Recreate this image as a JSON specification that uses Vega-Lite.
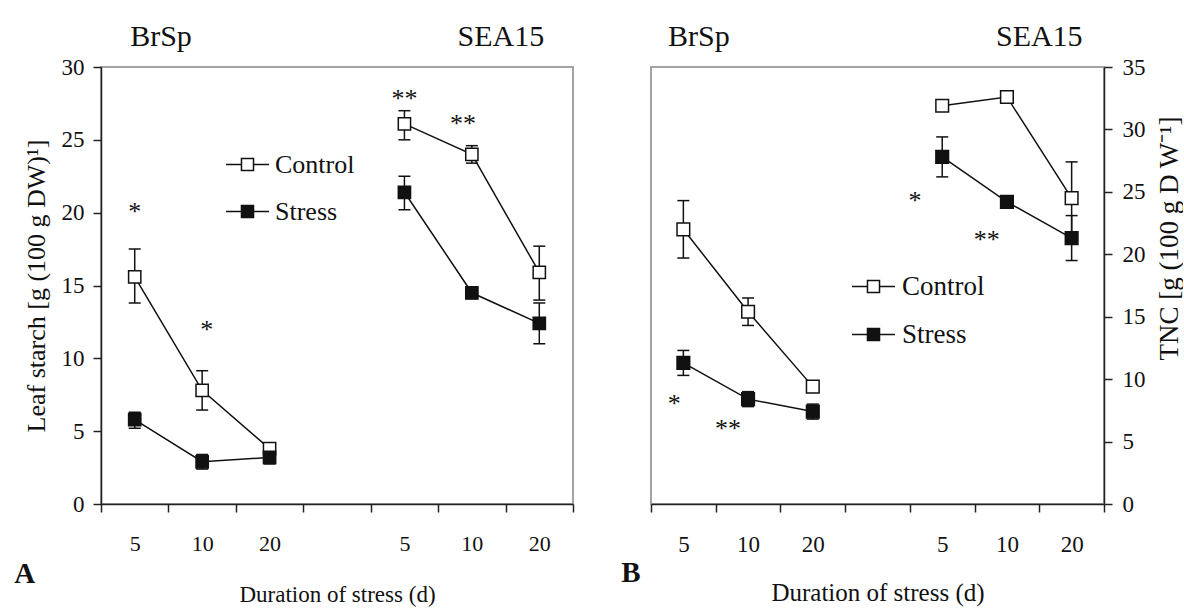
{
  "$schema": "https://vega.github.io/schema/vega-lite/v6.json",
  "background": "white",
  "padding": {"left": 13, "top": 21, "right": 0, "bottom": 0},
  "config": {
    "font": "Liberation Serif",
    "view": {"stroke": "#a3a3a3", "strokeWidth": 2},
    "axis": {"grid": false, "domainColor": "#222", "domainWidth": 1.5, "tickColor": "#222", "tickWidth": 1.5, "tickSize": 8, "labelColor": "#111", "titleColor": "#111", "labelFont": "Liberation Serif", "titleFont": "Liberation Serif", "titleFontWeight": "normal", "zindex": 2},
    "text": {"font": "Liberation Serif", "color": "#111"}
  },
  "datasets": {
    "starch": [
      {"series": "Control BrSp", "treatment": "Control", "x": 1, "y": 15.6, "lo": 13.8, "hi": 17.5},
      {"series": "Control BrSp", "treatment": "Control", "x": 2, "y": 7.8, "lo": 6.45, "hi": 9.15},
      {"series": "Control BrSp", "treatment": "Control", "x": 3, "y": 3.8, "lo": 3.5, "hi": 4.1},
      {"series": "Stress BrSp", "treatment": "Stress", "x": 1, "y": 5.8, "lo": 5.2, "hi": 6.3},
      {"series": "Stress BrSp", "treatment": "Stress", "x": 2, "y": 2.9, "lo": 2.4, "hi": 3.4},
      {"series": "Stress BrSp", "treatment": "Stress", "x": 3, "y": 3.2, "lo": 2.75, "hi": 3.7},
      {"series": "Control SEA15", "treatment": "Control", "x": 5, "y": 26.1, "lo": 25.0, "hi": 27.0},
      {"series": "Control SEA15", "treatment": "Control", "x": 6, "y": 24.0, "lo": 23.4, "hi": 24.6},
      {"series": "Control SEA15", "treatment": "Control", "x": 7, "y": 15.9, "lo": 14.0, "hi": 17.7},
      {"series": "Stress SEA15", "treatment": "Stress", "x": 5, "y": 21.4, "lo": 20.2, "hi": 22.5},
      {"series": "Stress SEA15", "treatment": "Stress", "x": 6, "y": 14.5, "lo": 14.1, "hi": 14.9},
      {"series": "Stress SEA15", "treatment": "Stress", "x": 7, "y": 12.4, "lo": 11.0, "hi": 13.8}
    ],
    "tnc": [
      {"series": "Control BrSp", "treatment": "Control", "x": 1, "y": 22.0, "lo": 19.7, "hi": 24.3},
      {"series": "Control BrSp", "treatment": "Control", "x": 2, "y": 15.4, "lo": 14.3, "hi": 16.5},
      {"series": "Control BrSp", "treatment": "Control", "x": 3, "y": 9.4, "lo": 9.0, "hi": 9.8},
      {"series": "Stress BrSp", "treatment": "Stress", "x": 1, "y": 11.3, "lo": 10.3, "hi": 12.3},
      {"series": "Stress BrSp", "treatment": "Stress", "x": 2, "y": 8.4, "lo": 7.8, "hi": 9.0},
      {"series": "Stress BrSp", "treatment": "Stress", "x": 3, "y": 7.4, "lo": 6.8, "hi": 8.0},
      {"series": "Control SEA15", "treatment": "Control", "x": 5, "y": 31.9, "lo": 31.5, "hi": 32.3},
      {"series": "Control SEA15", "treatment": "Control", "x": 6, "y": 32.6, "lo": 32.5, "hi": 32.7},
      {"series": "Control SEA15", "treatment": "Control", "x": 7, "y": 24.5, "lo": 21.6, "hi": 27.4},
      {"series": "Stress SEA15", "treatment": "Stress", "x": 5, "y": 27.8, "lo": 26.2, "hi": 29.4},
      {"series": "Stress SEA15", "treatment": "Stress", "x": 6, "y": 24.2, "lo": 24.0, "hi": 24.4},
      {"series": "Stress SEA15", "treatment": "Stress", "x": 7, "y": 21.3, "lo": 19.5, "hi": 23.1}
    ],
    "starStarch": [
      {"x": 1.0, "y": 20.5, "label": "*"},
      {"x": 2.07, "y": 12.4, "label": "*"},
      {"x": 5.0, "y": 28.3, "label": "**"},
      {"x": 5.87, "y": 26.6, "label": "**"}
    ],
    "starTnc": [
      {"x": 0.86, "y": 8.6, "label": "*"},
      {"x": 1.69, "y": 6.6, "label": "**"},
      {"x": 4.58, "y": 24.8, "label": "*"},
      {"x": 5.69, "y": 21.7, "label": "**"}
    ],
    "headStarch": [
      {"x": 1.39, "y": 31.44, "label": "BrSp"},
      {"x": 6.43, "y": 31.44, "label": "SEA15"}
    ],
    "headTnc": [
      {"x": 1.24, "y": 36.68, "label": "BrSp"},
      {"x": 6.5, "y": 36.68, "label": "SEA15"}
    ],
    "letterStarch": [{"x": -0.63, "y": -4.8, "label": "A"}],
    "letterTnc": [{"x": 0.19, "y": -5.5, "label": "B"}]
  },
  "spacing": 78,
  "bounds": "flush",
  "resolve": {"scale": {"fill": "independent"}, "legend": {"fill": "independent"}},
  "hconcat": [
    {
      "width": 472,
      "height": 437,
      "encoding": {
        "x": {"field": "x", "type": "quantitative", "scale": {"domain": [0.5, 7.5], "nice": false, "zero": false},
          "axis": {"values": [0.5, 1.5, 2.5, 3.5, 4.5, 5.5, 6.5, 7.5],
            "labelExpr": "datum.value == 0.5 ? '5' : datum.value == 1.5 ? '10' : datum.value == 2.5 ? '20' : datum.value == 4.5 ? '5' : datum.value == 5.5 ? '10' : datum.value == 6.5 ? '20' : ''",
            "labelOffset": 33.7, "labelFontSize": 22, "labelPadding": 21, "labelBound": false, "labelFlush": false, "labelOverlap": false,
            "title": "Duration of stress (d)", "titleFontSize": 23, "titlePadding": 29}},
        "y": {"field": "y", "type": "quantitative", "scale": {"domain": [0, 30], "nice": false, "zero": false},
          "axis": {"values": [0, 5, 10, 15, 20, 25, 30], "labelFontSize": 23, "labelPadding": 9,
            "title": "Leaf starch [g (100 g DW)¹]", "titleFontSize": 26, "titlePadding": 12}}
      },
      "layer": [
        {"data": {"name": "starch"}, "mark": {"type": "line", "color": "#111", "strokeWidth": 1.5},
          "encoding": {"detail": {"field": "series", "type": "nominal"}}},
        {"data": {"name": "starch"}, "mark": {"type": "rule", "color": "#111", "strokeWidth": 1.5},
          "encoding": {"y": {"field": "lo", "type": "quantitative"}, "y2": {"field": "hi"}}},
        {"data": {"name": "starch"}, "mark": {"type": "tick", "orient": "horizontal", "size": 12, "thickness": 1.5, "color": "#111", "opacity": 1},
          "encoding": {"y": {"field": "lo", "type": "quantitative"}}},
        {"data": {"name": "starch"}, "mark": {"type": "tick", "orient": "horizontal", "size": 12, "thickness": 1.5, "color": "#111", "opacity": 1},
          "encoding": {"y": {"field": "hi", "type": "quantitative"}}},
        {"data": {"name": "starch"}, "mark": {"type": "point", "shape": "square", "filled": true, "size": 150, "stroke": "#111", "strokeWidth": 1.5, "opacity": 1},
          "encoding": {"fill": {"field": "treatment", "type": "nominal", "scale": {"domain": ["Control", "Stress"], "range": ["white", "#111"]},
            "legend": {"title": null, "orient": "none", "legendX": 124, "legendY": 75, "padding": 0,
              "symbolType": "M-1,0H-0.28M0.28,0H1M-0.28,-0.28H0.28V0.28H-0.28Z", "symbolSize": 1849,
              "symbolStrokeColor": "#111", "symbolStrokeWidth": 1.5, "labelFontSize": 26, "labelFont": "Liberation Serif",
              "labelColor": "#111", "rowPadding": 11, "labelOffset": 5}}}},
        {"data": {"name": "starStarch"}, "mark": {"type": "text", "fontSize": 26, "baseline": "middle", "dy": 7},
          "encoding": {"text": {"field": "label"}}},
        {"data": {"name": "headStarch"}, "mark": {"type": "text", "fontSize": 30, "baseline": "alphabetic"},
          "encoding": {"text": {"field": "label"}}},
        {"data": {"name": "letterStarch"}, "mark": {"type": "text", "fontSize": 29, "fontWeight": "bold", "baseline": "middle"},
          "encoding": {"text": {"field": "label"}}}
      ]
    },
    {
      "width": 453,
      "height": 437,
      "encoding": {
        "x": {"field": "x", "type": "quantitative", "scale": {"domain": [0.5, 7.5], "nice": false, "zero": false},
          "axis": {"values": [0.5, 1.5, 2.5, 3.5, 4.5, 5.5, 6.5, 7.5],
            "labelExpr": "datum.value == 0.5 ? '5' : datum.value == 1.5 ? '10' : datum.value == 2.5 ? '20' : datum.value == 4.5 ? '5' : datum.value == 5.5 ? '10' : datum.value == 6.5 ? '20' : ''",
            "labelOffset": 32.4, "labelFontSize": 23, "labelPadding": 21, "labelBound": false, "labelFlush": false, "labelOverlap": false,
            "title": "Duration of stress (d)", "titleFontSize": 25, "titlePadding": 24}},
        "y": {"field": "y", "type": "quantitative", "scale": {"domain": [0, 35], "nice": false, "zero": false},
          "axis": {"orient": "right", "values": [0, 5, 10, 15, 20, 25, 30, 35], "labelFontSize": 23, "labelPadding": 10,
            "title": "TNC [g (100 g D W⁻¹]", "titleFontSize": 27, "titleAngle": -90, "titleBaseline": "top", "titlePadding": 11, "titleY": 171}}
      },
      "layer": [
        {"data": {"name": "tnc"}, "mark": {"type": "line", "color": "#111", "strokeWidth": 1.5},
          "encoding": {"detail": {"field": "series", "type": "nominal"}}},
        {"data": {"name": "tnc"}, "mark": {"type": "rule", "color": "#111", "strokeWidth": 1.5},
          "encoding": {"y": {"field": "lo", "type": "quantitative"}, "y2": {"field": "hi"}}},
        {"data": {"name": "tnc"}, "mark": {"type": "tick", "orient": "horizontal", "size": 12, "thickness": 1.5, "color": "#111", "opacity": 1},
          "encoding": {"y": {"field": "lo", "type": "quantitative"}}},
        {"data": {"name": "tnc"}, "mark": {"type": "tick", "orient": "horizontal", "size": 12, "thickness": 1.5, "color": "#111", "opacity": 1},
          "encoding": {"y": {"field": "hi", "type": "quantitative"}}},
        {"data": {"name": "tnc"}, "mark": {"type": "point", "shape": "square", "filled": true, "size": 160, "stroke": "#111", "strokeWidth": 1.5, "opacity": 1},
          "encoding": {"fill": {"field": "treatment", "type": "nominal", "scale": {"domain": ["Control", "Stress"], "range": ["white", "#111"]},
            "legend": {"title": null, "orient": "none", "legendX": 200, "legendY": 197, "padding": 0,
              "symbolType": "M-1,0H-0.28M0.28,0H1M-0.28,-0.28H0.28V0.28H-0.28Z", "symbolSize": 1849,
              "symbolStrokeColor": "#111", "symbolStrokeWidth": 1.5, "labelFontSize": 27, "labelFont": "Liberation Serif",
              "labelColor": "#111", "rowPadding": 12, "labelOffset": 6}}}},
        {"data": {"name": "starTnc"}, "mark": {"type": "text", "fontSize": 26, "baseline": "middle", "dy": 7},
          "encoding": {"text": {"field": "label"}}},
        {"data": {"name": "headTnc"}, "mark": {"type": "text", "fontSize": 30, "baseline": "alphabetic"},
          "encoding": {"text": {"field": "label"}}},
        {"data": {"name": "letterTnc"}, "mark": {"type": "text", "fontSize": 29, "fontWeight": "bold", "baseline": "middle"},
          "encoding": {"text": {"field": "label"}}}
      ]
    }
  ]
}
